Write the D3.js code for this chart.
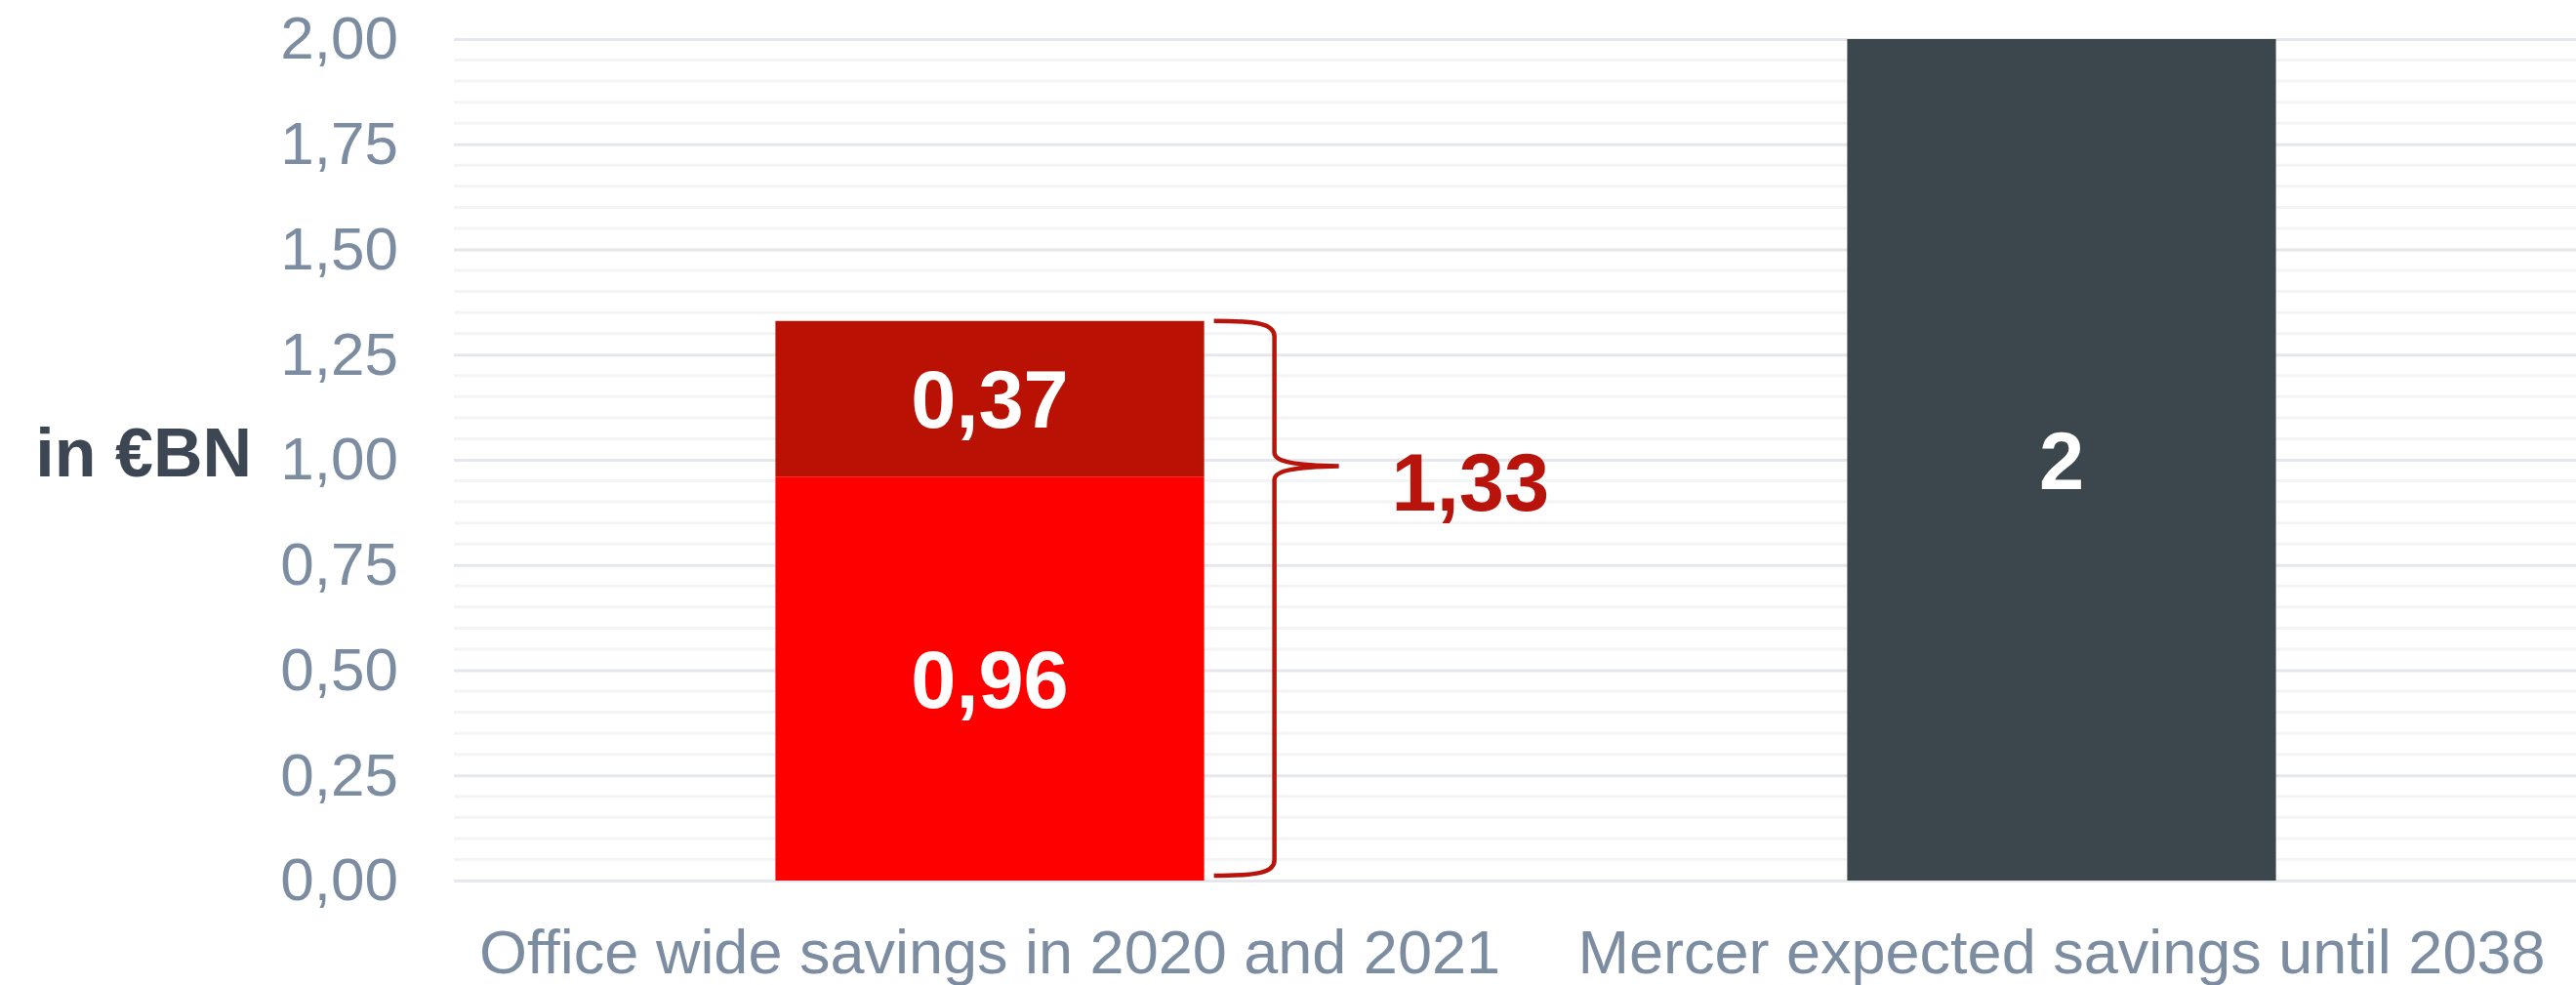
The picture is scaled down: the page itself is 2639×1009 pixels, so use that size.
<!DOCTYPE html>
<html lang="en">
  <head>
    <meta charset="utf-8">
    <title>Savings in €BN</title>
    <script src="https://d3js.org/d3.v7.min.js"></script>
    <style>
      html, body { margin: 0; padding: 0; background: #fff; }
      svg text { font-family: "Liberation Sans", Arial, sans-serif; }
    </style>
  </head>
  <body>
    <div id="chart"></div>
    <script>
      // chart values
      var categories = ["Office wide savings in 2020 and 2021", "Mercer expected savings until 2038"];
      var keys = ["base", "extra", "mercer"];
      var baseValues = [0.96, 0];
      var extraValues = [0.37, 0];
      var mercerValues = [0, 2];
      var yTicks = [0, 0.25, 0.5, 0.75, 1, 1.25, 1.5, 1.75, 2];
      var totalLabel = "1,33";
      var braceTip = 0.985; // value the brace points at
      var unitLabel = "in €BN";

      var colors = { base: "#ff0000", extra: "#b91104", mercer: "#3c474d" };

      var W = 2639, H = 1009;
      var margin = { top: 40, right: 0, bottom: 107, left: 465 };

      var locale = d3.formatLocale({ decimal: ",", thousands: ".", grouping: [3], currency: ["€", ""] });
      var tickFmt = locale.format(".2f");
      var valFmt = locale.format(".2~f");

      var rows = categories.map(function(c, i) {
        return { cat: c, base: baseValues[i], extra: extraValues[i], mercer: mercerValues[i] };
      });
      var series = d3.stack().keys(keys)(rows);

      var svg = d3.select("#chart").append("svg")
          .attr("width", W).attr("height", H);

      var x = d3.scaleBand()
          .domain(categories)
          .range([margin.left, 2661])
          .paddingInner(0.6)
          .paddingOuter(0.3);

      var y = d3.scaleLinear()
          .domain([0, 2])
          .range([H - margin.bottom, margin.top]);

      // minor grid every 0.05
      var minor = d3.range(0, 2.0001, 0.05).filter(function(v) { return Math.abs(v / 0.25 - Math.round(v / 0.25)) > 1e-6; });
      svg.append("g").selectAll("line").data(minor).enter().append("line")
          .attr("x1", margin.left).attr("x2", W)
          .attr("y1", function(d) { return y(d); }).attr("y2", function(d) { return y(d); })
          .attr("stroke", "#f3f4f6").attr("stroke-width", 3);

      // y axis with major gridlines
      var yAxis = svg.append("g")
          .attr("transform", "translate(" + margin.left + ",0)")
          .call(d3.axisLeft(y).tickValues(yTicks).tickFormat(tickFmt).tickSize(-(W - margin.left)).tickPadding(57));
      yAxis.select(".domain").remove();
      yAxis.selectAll(".tick line").attr("stroke", "#e4e7eb").attr("stroke-width", 3);
      yAxis.selectAll(".tick text")
          .attr("fill", "#7d8da1")
          .style("font-size", "62px")
          .style("font-family", "'Liberation Sans', Arial, sans-serif");

      svg.append("text")
          .attr("x", 258).attr("y", 488)
          .attr("text-anchor", "end")
          .attr("fill", "#3d4753")
          .style("font-size", "70px").style("font-weight", "bold")
          .text(unitLabel);

      // bars
      var layers = svg.append("g").selectAll("g").data(series).enter().append("g")
          .attr("fill", function(d) { return colors[d.key]; });
      layers.selectAll("rect").data(function(d) { return d; }).enter().append("rect")
          .attr("x", function(d) { return x(d.data.cat); })
          .attr("width", x.bandwidth())
          .attr("y", function(d) { return y(d[1]); })
          .attr("height", function(d) { return y(d[0]) - y(d[1]); });

      // labels inside bars
      series.forEach(function(s) {
        s.forEach(function(d) {
          var v = d[1] - d[0];
          if (v <= 0) return;
          svg.append("text")
              .attr("x", x(d.data.cat) + x.bandwidth() / 2)
              .attr("y", (y(d[0]) + y(d[1])) / 2)
              .attr("dy", "0.36em")
              .attr("text-anchor", "middle")
              .attr("fill", "#fff")
              .style("font-size", "83px").style("font-weight", "bold")
              .text(valFmt(v));
        });
      });

      // brace around the first stacked bar
      var total = baseValues[0] + extraValues[0];
      var x0 = x(categories[0]) + x.bandwidth() + 10;
      var xs = x0 + 62, xt = x0 + 128;
      var yTop = y(total), yBot = y(0) - 5, yT = y(braceTip);
      var brace = d3.path();
      brace.moveTo(x0, yTop);
      brace.bezierCurveTo(x0 + 45, yTop, xs, yTop + 3, xs, yTop + 16);
      brace.lineTo(xs, yT - 14);
      brace.bezierCurveTo(xs, yT - 4, xs + 22, yT - 1, xt, yT);
      brace.bezierCurveTo(xs + 22, yT + 1, xs, yT + 4, xs, yT + 14);
      brace.lineTo(xs, yBot - 16);
      brace.bezierCurveTo(xs, yBot - 3, x0 + 45, yBot, x0, yBot);
      svg.append("path")
          .attr("d", brace.toString())
          .attr("fill", "none")
          .attr("stroke", "#b8140c")
          .attr("stroke-width", 4.5);

      svg.append("text")
          .attr("x", x0 + 182).attr("y", yT + 46)
          .attr("fill", "#b8140c")
          .style("font-size", "83px").style("font-weight", "bold")
          .text(totalLabel);

      // category labels
      svg.append("g").selectAll("text").data(categories).enter().append("text")
          .attr("x", function(d) { return x(d) + x.bandwidth() / 2; })
          .attr("y", 997)
          .attr("text-anchor", "middle")
          .attr("fill", "#7d8da1")
          .style("font-size", "63px")
          .text(function(d) { return d; });
    </script>
  </body>
</html>
